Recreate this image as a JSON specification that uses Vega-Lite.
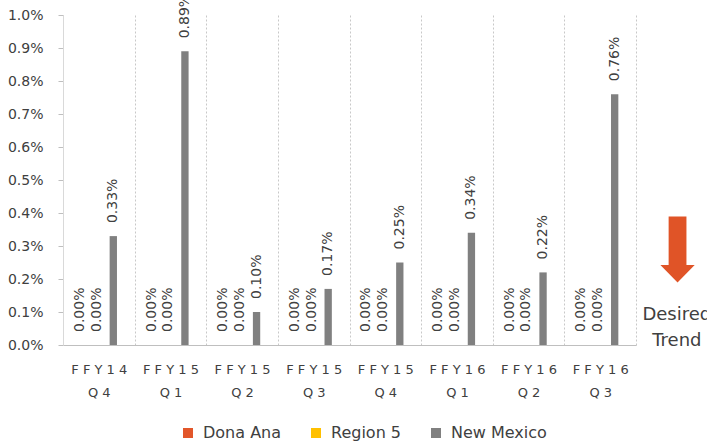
{
  "$schema": "https://vega.github.io/schema/vega-lite/v6.json",
  "width": 573,
  "height": 330,
  "autosize": {"type": "none"},
  "padding": {"left": 63, "top": 15, "right": 71, "bottom": 100},
  "background": "white",
  "config": {
    "view": {"stroke": null},
    "font": "DejaVu Sans",
    "axisY": {
      "values": [0, 0.001, 0.002, 0.003, 0.004, 0.005, 0.006, 0.007, 0.008, 0.009, 0.01],
      "format": ".1%",
      "labelFontSize": 14,
      "labelColor": "#404040",
      "labelPadding": 15,
      "labelOverlap": false,
      "labelFlush": false,
      "tickSize": 5,
      "tickColor": "#BFBFBF",
      "domainColor": "#D9D9D9",
      "grid": false,
      "title": null
    }
  },
  "datasets": {
    "rates": [
      {"period": "FFY14 Q4", "series": "Dona Ana", "rate": 0},
      {"period": "FFY14 Q4", "series": "Region 5", "rate": 0},
      {"period": "FFY14 Q4", "series": "New Mexico", "rate": 0.0033},
      {"period": "FFY15 Q1", "series": "Dona Ana", "rate": 0},
      {"period": "FFY15 Q1", "series": "Region 5", "rate": 0},
      {"period": "FFY15 Q1", "series": "New Mexico", "rate": 0.0089},
      {"period": "FFY15 Q2", "series": "Dona Ana", "rate": 0},
      {"period": "FFY15 Q2", "series": "Region 5", "rate": 0},
      {"period": "FFY15 Q2", "series": "New Mexico", "rate": 0.0010},
      {"period": "FFY15 Q3", "series": "Dona Ana", "rate": 0},
      {"period": "FFY15 Q3", "series": "Region 5", "rate": 0},
      {"period": "FFY15 Q3", "series": "New Mexico", "rate": 0.0017},
      {"period": "FFY15 Q4", "series": "Dona Ana", "rate": 0},
      {"period": "FFY15 Q4", "series": "Region 5", "rate": 0},
      {"period": "FFY15 Q4", "series": "New Mexico", "rate": 0.0025},
      {"period": "FFY16 Q1", "series": "Dona Ana", "rate": 0},
      {"period": "FFY16 Q1", "series": "Region 5", "rate": 0},
      {"period": "FFY16 Q1", "series": "New Mexico", "rate": 0.0034},
      {"period": "FFY16 Q2", "series": "Dona Ana", "rate": 0},
      {"period": "FFY16 Q2", "series": "Region 5", "rate": 0},
      {"period": "FFY16 Q2", "series": "New Mexico", "rate": 0.0022},
      {"period": "FFY16 Q3", "series": "Dona Ana", "rate": 0},
      {"period": "FFY16 Q3", "series": "Region 5", "rate": 0},
      {"period": "FFY16 Q3", "series": "New Mexico", "rate": 0.0076}
    ]
  },
  "layer": [
    {
      "data": {"name": "rates"},
      "encoding": {
        "x": {
          "field": "period",
          "type": "nominal",
          "sort": null,
          "title": null,
          "scale": {"paddingInner": 0, "paddingOuter": 0},
          "axis": {
            "labelAngle": 0,
            "labelExpr": "datum.value ? [join(split(split(datum.value,' ')[0],''),' '), join(split(split(datum.value,' ')[1],''),' ')] : ''",
            "labelFontSize": 13,
            "labelColor": "#404040",
            "labelBaseline": "top",
            "labelPadding": 18,
            "labelLineHeight": 23,
            "labelOverlap": false,
            "ticks": false,
            "domainColor": "#BFBFBF",
            "domainWidth": 1,
            "grid": true,
            "tickBand": "extent",
            "gridColor": "#C8C8C8",
            "gridDash": [2, 2],
            "gridWidth": 1
          }
        },
        "xOffset": {
          "field": "series",
          "type": "nominal",
          "sort": ["Dona Ana", "Region 5", "New Mexico"],
          "scale": {"domain": ["Dona Ana", "Region 5", "New Mexico"], "paddingInner": 0.56, "paddingOuter": 0.93, "align": 0.43}
        },
        "y": {
          "field": "rate",
          "type": "quantitative",
          "title": null,
          "scale": {"domain": [0, 0.01], "nice": false}
        }
      },
      "layer": [
        {
          "mark": {"type": "bar"},
          "encoding": {
            "color": {
              "field": "series",
              "type": "nominal",
              "sort": ["Dona Ana", "Region 5", "New Mexico"],
              "scale": {"domain": ["Dona Ana", "Region 5", "New Mexico"], "range": ["#E2562A", "#FFC000", "#808080"]},
              "legend": {
                "title": null,
                "orient": "none",
                "direction": "horizontal",
                "legendX": 117,
                "legendY": 410,
                "symbolType": "square",
                "symbolSize": 100,
                "symbolStrokeWidth": 0,
                "labelFontSize": 16,
                "labelColor": "#404040",
                "labelOffset": 7,
                "columnPadding": 26,
                "padding": 0
              }
            }
          }
        },
        {
          "mark": {"type": "text", "angle": 270, "align": "left", "baseline": "middle", "dx": 13, "fontSize": 14, "color": "#404040"},
          "encoding": {
            "text": {"field": "rate", "type": "quantitative", "format": ".2%"}
          }
        }
      ]
    },
    {
      "data": {"values": [{}]},
      "layer": [
        {
          "mark": {"type": "point", "shape": "M-0.27,-1 L0.27,-1 L0.27,0.47 L0.52,0.47 L0,1 L-0.52,0.47 L-0.27,0.47 Z", "filled": true, "fill": "#E05427", "stroke": null, "opacity": 1, "size": 4356},
          "encoding": {
            "x": {"datum": 8.58, "type": "quantitative", "scale": {"domain": [0, 8]}, "axis": null},
            "y": {"datum": 0.002894, "type": "quantitative", "title": null}
          }
        },
        {
          "mark": {"type": "text", "align": "center", "baseline": "middle", "fontSize": 18, "lineHeight": 26, "color": "#404040"},
          "encoding": {
            "x": {"datum": 8.57, "type": "quantitative", "scale": {"domain": [0, 8]}, "axis": null},
            "y": {"datum": 0.00091, "type": "quantitative", "title": null},
            "text": {"value": ["Desired", "Trend"]}
          }
        }
      ]
    }
  ],
  "resolve": {"scale": {"x": "independent"}, "axis": {"x": "independent"}}
}
